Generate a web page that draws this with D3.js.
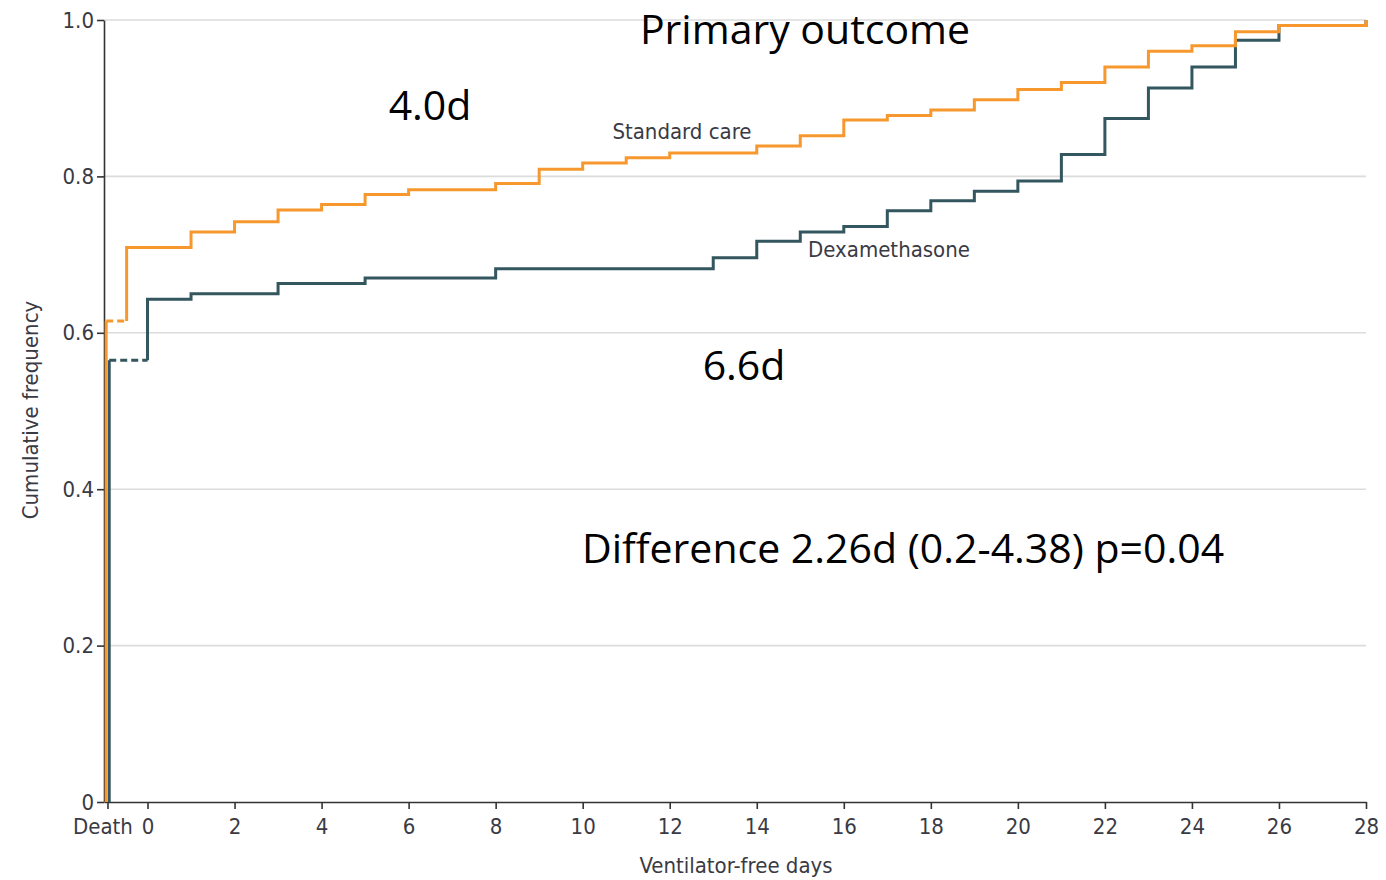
<!DOCTYPE html>
<html>
<head>
<meta charset="utf-8">
<script src="https://cdn.jsdelivr.net/npm/d3@7"></script>
<style>
  body { margin: 0; background: #fff; }
  .axis text { font-family: 'DejaVu Sans Condensed', sans-serif; font-size: 22px; fill: #3a3a44; }
  .axis path, .axis line { stroke: #333; stroke-width: 1.6; }
  .lbl { font-family: 'DejaVu Sans Condensed', sans-serif; font-size: 22px; fill: #3a3a44; }
  .big { font-family: 'Open Sans', Lato, sans-serif; font-size: 41px; fill: #000; }
</style>
</head>
<body>
<div id="chart"></div>
<script>
// data (x = ventilator-free days, "Death" placed left of 0)
var deathDay = -0.92;
var xTicks = [deathDay, 0, 2, 4, 6, 8, 10, 12, 14, 16, 18, 20, 22, 24, 26, 28];
var yTicks = [0, 0.2, 0.4, 0.6, 0.8, 1.0];

var stdDays = [-0.95, -0.48, 1, 2, 3, 4, 5, 6, 8, 9, 10, 11, 12, 14, 15, 16, 17, 18, 19, 20, 21, 22, 23, 24, 25, 26, 28];
var stdFreq = [0.615, 0.709, 0.729, 0.742, 0.757, 0.764, 0.777, 0.783, 0.791, 0.809, 0.817, 0.824, 0.830, 0.839, 0.852, 0.872, 0.878, 0.885, 0.898, 0.911, 0.920, 0.940, 0.960, 0.967, 0.985, 0.993, 1.0];

var dexDays = [-0.88, 0, 1, 3, 5, 8, 13, 14, 15, 16, 17, 18, 19, 20, 21, 22, 23, 24, 25, 26, 28];
var dexFreq = [0.565, 0.643, 0.650, 0.663, 0.670, 0.682, 0.696, 0.717, 0.729, 0.736, 0.756, 0.769, 0.781, 0.794, 0.828, 0.874, 0.913, 0.940, 0.974, 0.993, 1.0];

var svgWidth = 1386;
var svgHeight = 880;

var svg = d3.select("#chart")
  .append("svg")
  .attr("width", svgWidth)
  .attr("height", svgHeight);

var x = d3.scaleLinear().domain([-1, 28]).range([104, 1366]);
var y = d3.scaleLinear().domain([0, 1]).range([802, 20]);

// gridlines
svg.append("g")
  .selectAll("line")
  .data(yTicks.filter(d => d > 0))
  .enter()
  .append("line")
  .attr("x1", x(-1))
  .attr("x2", x(28))
  .attr("y1", d => y(d))
  .attr("y2", d => y(d))
  .attr("stroke", "#dcdcdc")
  .attr("stroke-width", 1.6);

// axes
var xAxis = svg.append("g")
  .attr("class", "axis")
  .attr("transform", `translate(0, ${y(0)})`)
  .call(d3.axisBottom(x)
    .tickValues(xTicks)
    .tickFormat(d => d < 0 ? "Death" : d)
    .tickSize(7)
    .tickSizeOuter(0)
    .tickPadding(9));

// nudge "Death" left so it clears the 0
xAxis.selectAll(".tick text")
  .filter(d => d < 0)
  .attr("dx", -5);

svg.append("g")
  .attr("class", "axis")
  .attr("transform", `translate(${x(-1)}, 0)`)
  .call(d3.axisLeft(y)
    .tickValues(yTicks)
    .tickFormat(d => d === 0 ? "0" : d.toFixed(1))
    .tickSize(7)
    .tickSizeOuter(0)
    .tickPadding(3));

// draw one cumulative step curve: solid drop-in at Death, dashed run, then steps
function drawCurve(days, freq, color) {
  var g = svg.append("g");
  g.append("line")
    .attr("x1", x(days[0])).attr("x2", x(days[0]))
    .attr("y1", y(0)).attr("y2", y(freq[0]))
    .attr("stroke", color).attr("stroke-width", 3);
  g.append("line")
    .attr("x1", x(days[0])).attr("x2", x(days[1]))
    .attr("y1", y(freq[0])).attr("y2", y(freq[0]))
    .attr("stroke", color).attr("stroke-width", 3)
    .attr("stroke-dasharray", "7,4");

  var pts = [[days[1], freq[0]]];
  for (var i = 1; i < days.length; i++) {
    pts.push([days[i], freq[i]]);
  }
  var line = d3.line()
    .x(d => x(d[0]))
    .y(d => y(d[1]))
    .curve(d3.curveStepAfter);
  g.append("path")
    .datum(pts)
    .attr("d", line)
    .attr("fill", "none")
    .attr("stroke", color)
    .attr("stroke-width", 3);
}

drawCurve(dexDays, dexFreq, "#33565f");
drawCurve(stdDays, stdFreq, "#f7982f");

// curve labels
svg.append("text").attr("class", "lbl")
  .attr("x", 682).attr("y", 139).attr("text-anchor", "middle")
  .text("Standard care");
svg.append("text").attr("class", "lbl")
  .attr("x", 889).attr("y", 257).attr("text-anchor", "middle")
  .text("Dexamethasone");

// axis titles
svg.append("text").attr("class", "lbl")
  .attr("transform", "rotate(-90)")
  .attr("x", -410).attr("y", 38)
  .attr("text-anchor", "middle")
  .text("Cumulative frequency");
svg.append("text").attr("class", "lbl")
  .attr("x", 736).attr("y", 873)
  .attr("text-anchor", "middle")
  .text("Ventilator-free days");

// annotations
svg.append("text").attr("class", "big")
  .attr("x", 805).attr("y", 44).attr("text-anchor", "middle")
  .text("Primary outcome");
svg.append("text").attr("class", "big")
  .attr("x", 430).attr("y", 120).attr("text-anchor", "middle")
  .text("4.0d");
svg.append("text").attr("class", "big")
  .attr("x", 744).attr("y", 380).attr("text-anchor", "middle")
  .text("6.6d");
svg.append("text").attr("class", "big")
  .attr("x", 903).attr("y", 563).attr("text-anchor", "middle")
  .text("Difference 2.26d (0.2-4.38) p=0.04");
</script>
</body>
</html>
